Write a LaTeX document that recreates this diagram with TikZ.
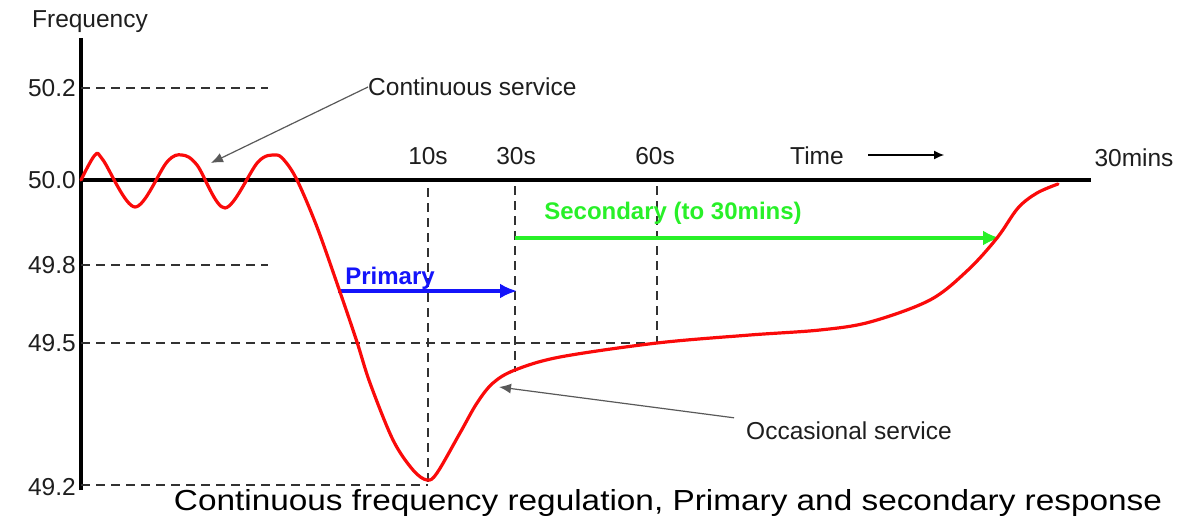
\documentclass[tikz,border=0pt]{standalone}
\usepackage{fontspec}
\setmainfont{Liberation Sans}
\usetikzlibrary{arrows.meta}
\definecolor{cred}{RGB}{250,10,10}
\definecolor{cgreen}{RGB}{40,240,40}
\definecolor{cblue}{RGB}{20,20,250}
\definecolor{cdash}{RGB}{50,50,50}
\definecolor{ctxt}{RGB}{30,30,30}
\tikzset{
  lbl/.style={inner sep=0pt, font=\fontsize{24.5}{27}\selectfont, text=ctxt},
  boldlbl/.style={inner sep=0pt, font=\fontsize{24}{27}\selectfont\bfseries},
  guide/.style={draw=cdash, line width=2pt, dash pattern=on 9pt off 6pt},
  axisline/.style={draw=black, line width=4.5pt},
  pointer/.style={draw=gray!70!black, line width=1.2pt, -{Latex[length=12pt,width=10pt]}},
  resp/.style={line width=4pt, -{Latex[length=17pt,width=15pt]}},
}
\begin{document}
\begin{tikzpicture}[x=1pt,y=-1pt]
\useasboundingbox (0,0) rectangle (1177,519);
% axes
\coordinate (o) at (81,180);
\coordinate (ytop) at (81,38);
\coordinate (ybot) at (81,490);
\coordinate (xend) at (1091,180);
\draw[axisline] (ybot) -- (ytop);
\draw[axisline] (o) -- (xend);
% labels
\node[lbl, anchor=center] (freq) at (90,22) {Frequency};
\node[lbl, anchor=east] (l502) at (76,88) {50.2};
\node[lbl, anchor=east] (l500) at (76,180) {50.0};
\node[lbl, anchor=east] (l498) at (76,265) {49.8};
\node[lbl, anchor=east] (l495) at (76,343) {49.5};
\node[lbl, anchor=east] (l492) at (76,487) {49.2};
\node[lbl] (t10) at (428,156) {10s};
\node[lbl] (t30) at (516,156) {30s};
\node[lbl] (t60) at (655,156) {60s};
\node[lbl] (time) at (817,156) {Time};
\node[lbl] (t30m) at (1134,158) {30mins};
\coordinate (ta) at (868,155);
\coordinate (tb) at (944,155);
\draw[line width=1.2pt, -{Latex[length=10pt,width=9pt]}] (ta) -- (tb);
% guides
\coordinate (g502) at (268,88);
\coordinate (g498) at (268,265);
\coordinate (g495) at (657,343);
\coordinate (g492) at (428,485);
\draw[guide] (81,88) -- (g502);
\draw[guide] (81,265) -- (g498);
\draw[guide] (81,343) -- (g495);
\draw[guide] (81,485) -- (g492);
\draw[guide] (428,188) -- (g492);
\draw[guide] (515,186) -- (515,372);
\draw[guide] (657,186) -- (g495);
% response arrows
\coordinate (pa) at (338,291);
\coordinate (pb) at (517,291);
\coordinate (sa) at (515,238);
\coordinate (sb) at (1000,238);
\draw[resp, draw=cblue, fill=cblue] (pa) -- (pb);
\draw[resp, draw=cgreen, fill=cgreen] (sa) -- (sb);
\node[boldlbl, text=cblue] (prim) at (390,278) {Primary};
\node[boldlbl, text=cgreen] (sec) at (673,213) {Secondary (to 30mins)};
% red curve
\draw[cred, line width=3.2pt, line join=round, line cap=round] plot[smooth, tension=0.55] coordinates {
 (81,180) (95,155) (103,160) (135,207) (167,162) (182,155) (197,165) (225,208) (258,162) (275,155) (284,160)
 (297,180) (317,227) (340,292) (357,342) (370,383) (393,440) (413,470) (427,480) (437,473) (460,433)
 (477,403) (493,383) (515,370) (560,357) (657,343) (750,335) (820,330) (870,322) (930,300) (968,270)
 (997,238) (1018,208) (1037,193) (1058,184)};
% pointers
\node[lbl, anchor=west] (cont) at (368,87) {Continuous service};
\coordinate (ctip) at (211,163);
\draw[pointer] (cont.west) -- (ctip);
\node[lbl, anchor=west] (occ) at (746,431) {Occasional service};
\coordinate (otip) at (499,387);
\draw[pointer] (occ.north west) ++(-12,-4) coordinate (ostart) -- (otip);
% caption
\node[inner sep=0pt, font=\fontsize{29}{32}\selectfont, anchor=center, xscale=1.15] (cap) at (668,503) {Continuous frequency regulation, Primary and secondary response};
\end{tikzpicture}
\end{document}
